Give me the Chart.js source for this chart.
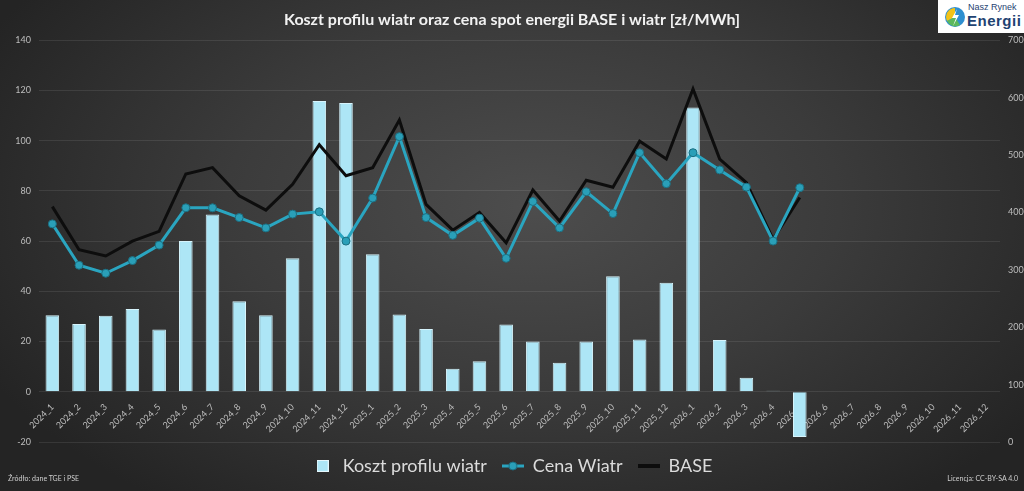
<!DOCTYPE html>
<html>
<head>
<meta charset="utf-8">
<script src="https://cdn.jsdelivr.net/npm/chart.js@4.4.1/dist/chart.umd.min.js"></script>
<style>
html, body { margin: 0; padding: 0; }
body {
  width: 1024px; height: 491px; overflow: hidden; position: relative;
  background: radial-gradient(ellipse 60% 75% at 52% 42%, #4d4d4d 0%, #3b3b3b 50%, #242424 100%);
  font-family: Lato, sans-serif;
}
#wrap { position: absolute; left: 0; top: 0; width: 1024px; height: 491px; }
.logo {
  position: absolute; left: 938px; top: 0; width: 86px; height: 33px; background: #fff;
}
.logo .t1 { position: absolute; left: 30px; top: 2px; font: 9px "Liberation Sans", Arial, sans-serif; color: #1f4372; }
.logo .t2 { position: absolute; left: 29px; top: 12px; font: bold 15px "Liberation Sans", Arial, sans-serif; color: #1f4372; letter-spacing: 0.5px; }
.foot { position: absolute; top: 474px; font: 7px Lato, sans-serif; color: #cfcfcf; }
</style>
</head>
<body>
<div id="wrap"><canvas id="chart" width="1024" height="491"></canvas></div>
<div class="logo">
  <svg width="22" height="22" viewBox="0 0 22 22" style="position:absolute;left:6px;top:6px">
    <circle cx="11" cy="11" r="10" fill="#2f8fd0"/>
    <path d="M3 15 A9 9 0 0 1 11 2 L11 11 Z" fill="#f2c318"/>
    <path d="M3 15 A9 9 0 0 0 16 19 L11 11 Z" fill="#5cb85c"/>
    <path d="M13 3 L8 12 L12 12 L9 20 L15 9 L11 9 Z" fill="#fff"/>
  </svg>
  <div class="t1">Nasz Rynek</div>
  <div class="t2">Energii</div>
</div>
<div class="foot" style="left:8px">Źródło: dane TGE i PSE</div>
<div class="foot" style="right:6px">Licencja: CC-BY-SA 4.0</div>
<script>
// Data
const months = [
  '2024_1','2024_2','2024_3','2024_4','2024_5','2024_6','2024_7','2024_8','2024_9','2024_10','2024_11','2024_12',
  '2025_1','2025_2','2025_3','2025_4','2025_5','2025_6','2025_7','2025_8','2025_9','2025_10','2025_11','2025_12',
  '2026_1','2026_2','2026_3','2026_4','2026_5','2026_6','2026_7','2026_8','2026_9','2026_10','2026_11','2026_12'
];
const kosztProfilu = [30.5, 27, 30.3, 33, 24.8, 60, 70.6, 36, 30.5, 53.2, 115.8, 115, 54.8, 30.8, 25, 9.2, 12.2, 26.8, 20, 11.6, 20, 46, 20.8, 43.4, 113.2, 20.6, 5.6, 0.4, -18, null, null, null, null, null, null, null];
const cenaWiatr = [380, 308, 294, 316, 343, 408, 408, 391, 373, 397, 401, 350, 425, 532, 391, 360, 390, 320, 419, 373, 436, 398, 504, 450, 504, 474, 444, 350, 443, null, null, null, null, null, null, null];
const base = [410, 335, 324, 350, 367, 467, 478, 429, 404, 449, 518, 464, 478, 561, 414, 369, 400, 347, 439, 385, 456, 444, 524, 493, 615, 493, 452, 353, 426, null, null, null, null, null, null, null];
const leftTicks = [-20, 140, 20];
const rightTicks = [0, 700, 100];

const barColor = '#ade6f6';
const tealColor = '#2aa5c0';

// small icons for the legend
function legendIcon(kind) {
  const c = document.createElement('canvas');
  const g = c.getContext('2d');
  if (kind === 'bar') {
    c.width = 12; c.height = 12;
    g.fillStyle = barColor; g.fillRect(0, 0, 12, 12);
    g.strokeStyle = '#e6f8fd'; g.lineWidth = 1; g.strokeRect(0.5, 0.5, 11, 11);
  } else if (kind === 'teal') {
    c.width = 22; c.height = 10;
    g.strokeStyle = tealColor; g.lineWidth = 3;
    g.beginPath(); g.moveTo(0, 5); g.lineTo(22, 5); g.stroke();
    g.fillStyle = '#2a9fb8'; g.strokeStyle = '#1b6f82'; g.lineWidth = 1;
    g.beginPath(); g.arc(11, 5, 4, 0, Math.PI * 2); g.fill(); g.stroke();
  } else {
    c.width = 22; c.height = 4;
    g.fillStyle = '#0d0d0d'; g.fillRect(0, 0, 22, 4);
  }
  return c;
}
const icons = [legendIcon('bar'), legendIcon('teal'), legendIcon('base')];

const ctx = document.getElementById('chart').getContext('2d');
new Chart(ctx, {
  type: 'bar',
  data: {
    labels: months,
    datasets: [
      {
        type: 'line',
        label: 'Cena Wiatr',
        data: cenaWiatr,
        yAxisID: 'y1',
        borderColor: tealColor,
        borderWidth: 3,
        pointRadius: 4,
        pointBackgroundColor: '#2a9fb8',
        pointBorderColor: '#1b6f82',
        pointBorderWidth: 1,
        tension: 0,
        order: 1
      },
      {
        type: 'line',
        label: 'BASE',
        data: base,
        yAxisID: 'y1',
        borderColor: '#0d0d0d',
        borderWidth: 3,
        pointRadius: 0,
        tension: 0,
        order: 2
      },
      {
        label: 'Koszt profilu wiatr',
        data: kosztProfilu,
        yAxisID: 'y',
        backgroundColor: barColor,
        borderColor: '#d6f4fc',
        borderWidth: 1,
        barPercentage: 0.52,
        categoryPercentage: 0.98,
        order: 3
      }
    ]
  },
  options: {
    responsive: false,
    animation: false,
    layout: { padding: { left: 0, right: 0, top: 0, bottom: 6 } },
    plugins: {
      title: {
        display: true,
        text: 'Koszt profilu wiatr oraz cena spot energii BASE i wiatr [zł/MWh]',
        color: '#f2f2f2',
        font: { family: 'Lato', size: 16, weight: 'bold' },
        padding: { top: 10, bottom: 11 }
      },
      legend: {
        position: 'bottom',
        labels: {
          color: '#dcdcdc',
          font: { family: 'Lato', size: 18 },
          usePointStyle: true,
          pointStyleWidth: 22,
          padding: 15,
          generateLabels: function(chart) {
            const names = ['Koszt profilu wiatr', 'Cena Wiatr', 'BASE'];
            const idx = [2, 0, 1];
            return names.map((n, i) => ({
              text: n,
              fontColor: '#dcdcdc',
              pointStyle: icons[i],
              datasetIndex: idx[i],
              hidden: false,
              lineWidth: 0,
              strokeStyle: 'transparent',
              fillStyle: 'transparent'
            }));
          }
        }
      },
      tooltip: { enabled: false }
    },
    scales: {
      x: {
        position: { y: 0 },
        grid: { display: false },
        border: { display: false },
        ticks: {
          color: '#bdbdbd',
          font: { family: 'Lato', size: 9 },
          autoSkip: false,
          maxRotation: 45,
          minRotation: 45,
          padding: 2
        }
      },
      y: {
        position: 'left',
        min: leftTicks[0],
        max: leftTicks[1],
        grid: { color: 'rgba(255,255,255,0.09)', drawTicks: false },
        border: { display: false },
        ticks: {
          stepSize: leftTicks[2],
          color: '#bdbdbd',
          font: { family: 'Lato', size: 9 },
          padding: 8
        },
        afterFit: function(s) { s.width = 39; }
      },
      y1: {
        position: 'right',
        min: rightTicks[0],
        max: rightTicks[1],
        grid: { display: false, drawTicks: false },
        border: { display: false },
        ticks: {
          stepSize: rightTicks[2],
          color: '#bdbdbd',
          font: { family: 'Lato', size: 9 },
          padding: 8
        },
        afterFit: function(s) { s.width = 24; }
      }
    }
  }
});
</script>
</body>
</html>
